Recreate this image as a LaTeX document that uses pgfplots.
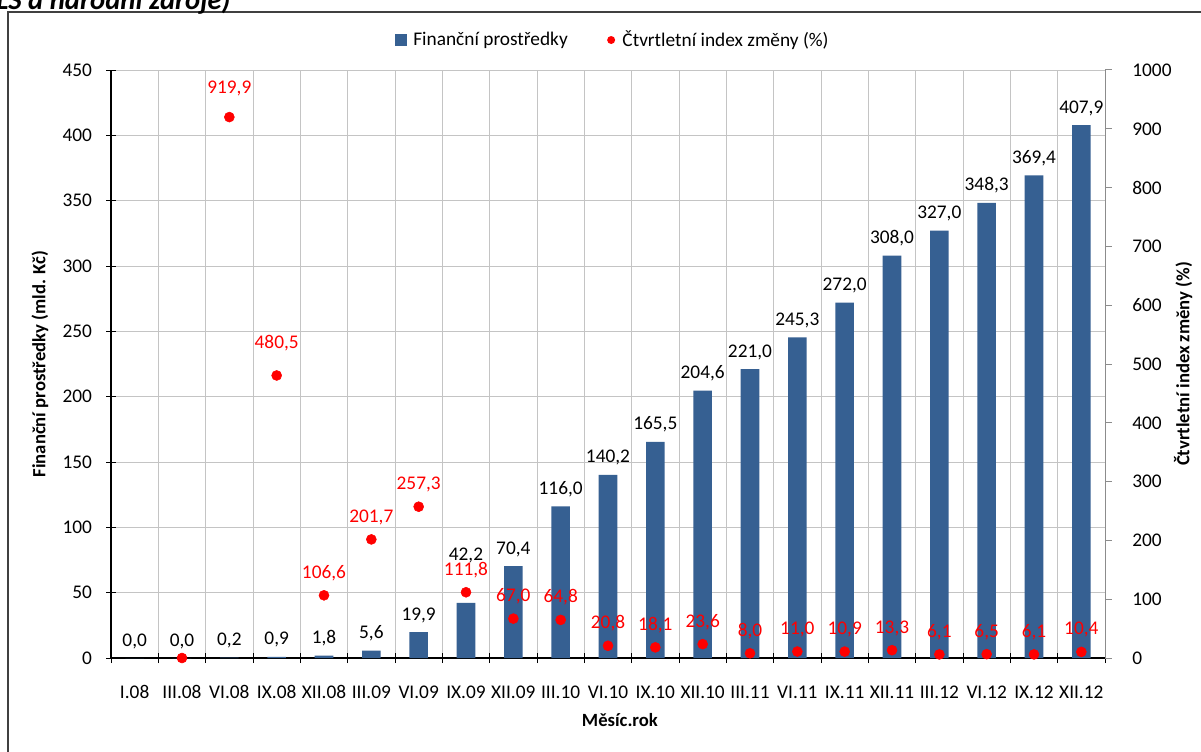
\documentclass[border=0pt]{standalone}
\usepackage{pgfplots}
\pgfplotsset{compat=1.18}
\usepackage{fontspec}
\setmainfont{Carlito}
\definecolor{barblue}{RGB}{54,96,146}
\definecolor{gridgray}{RGB}{196,196,196}
\definecolor{dotred}{RGB}{255,0,0}
\newcommand{\tfont}{\fontsize{14.5}{17}\selectfont}
\pgfplotsset{
  common/.style={
    at={(83.25pt,69.75pt)}, anchor=south west, scale only axis,
    width=745.5pt, height=441pt,
    xmin=-0.5, xmax=20.5,
    /pgf/number format/assume math mode=true,
    /pgf/number format/1000 sep={},
    tick label style={font=\tfont},
    label style={font=\fontsize{14}{16}\selectfont\bfseries},
  }
}
\begin{document}
\begin{tikzpicture}[x=1pt,y=1pt]
\path[use as bounding box] (0,0) rectangle (900.75,563.25);
\fill[white] (0,0) rectangle (900.75,563.25);
\draw[black!75, line width=0.9pt] (6,-20) -- (6,554.25) -- (920,554.25);
\node[anchor=base west, font=\fontsize{21.5}{24}\selectfont\bfseries\itshape, inner sep=0] at (-3,556) {LS a národní zdroje)};

\begin{axis}[common,
  ymin=0, ymax=450,
  axis x line*=bottom, axis y line*=left,
  xtick={-0.5,0.5,...,20.5}, x tick label as interval,
  xticklabels={I.08,III.08,VI.08,IX.08,XII.08,III.09,VI.09,IX.09,XII.09,III.10,VI.10,IX.10,XII.10,III.11,VI.11,IX.11,XII.11,III.12,VI.12,IX.12,XII.12},
  ytick={0,50,...,450},
  grid=major, grid style={gridgray, line width=0.75pt},
  tick align=center, major tick length=7.5pt,
  tick style={black, line width=0.75pt},
  axis line style={black, line width=1.3pt},
  xticklabel style={anchor=base, yshift=-26.5pt},
  yticklabel style={anchor=east, xshift=-7pt},
  ylabel={Finanční prostředky (mld. Kč)},
  ylabel style={at={(axis description cs:-0.0714,0.5)}, anchor=center},
  xlabel={Měsíc.rok},
  xlabel style={at={(axis description cs:0.512,-0.1054)}, anchor=center},
]
\addplot[ybar, bar width=13.9pt, fill=barblue, draw=none] coordinates {
(0,0) (1,0) (2,0.2) (3,0.9) (4,1.8) (5,5.6) (6,19.9) (7,42.2) (8,70.4) (9,116.0)
(10,140.2) (11,165.5) (12,204.6) (13,221.0) (14,245.3) (15,272.0) (16,308.0)
(17,327.0) (18,348.3) (19,369.4) (20,407.9)};
\addplot[draw=none, nodes near coords, point meta=explicit symbolic,
  every node near coord/.style={anchor=base, yshift=9pt, text=black, font=\tfont}]
  table[meta=lab] {
x y lab
0 0 0,0
1 0 0,0
2 0.2 0,2
3 0.9 0,9
4 1.8 1,8
5 5.6 5,6
6 19.9 19,9
8 70.4 70,4
9 116.0 116,0
10 140.2 140,2
11 165.5 165,5
12 204.6 204,6
13 221.0 221,0
14 245.3 245,3
15 272.0 272,0
16 308.0 308,0
17 327.0 327,0
18 348.3 348,3
19 369.4 369,4
20 407.9 407,9
};
\addplot[draw=none, nodes near coords, point meta=explicit symbolic,
  every node near coord/.style={anchor=base, yshift=31.5pt, text=black, font=\tfont}]
  table[meta=lab] {
x y lab
7 42.2 42,2
};
\end{axis}

\begin{axis}[common,
  ymin=0, ymax=1000,
  axis x line=none, axis y line*=right,
  ytick={0,100,...,1000},
  tick align=outside, major tick length=5pt,
  tick style={black!45, line width=0.75pt},
  axis line style={black!45, line width=0.75pt},
  yticklabel style={anchor=west, xshift=12pt},
  ylabel={Čtvrtletní index změny (\%)},
  ylabel style={at={(axis description cs:1.0785,0.5)}, anchor=center},
  legend style={at={(axis description cs:0.505,1.051)}, anchor=center, draw=none, fill=none,
    font=\tfont, legend columns=2,
    /tikz/every even column/.append style={column sep=26pt}},
]
\addlegendimage{legend image code/.code={\fill[barblue, draw=none] (0pt,-4.5pt) rectangle (9pt,4.5pt); \path[draw=none, fill=none] (0pt,0pt) -- (12pt,0pt);}}
\addlegendentry{Finanční prostředky}
\addplot[only marks, mark=*, mark size=3.75pt, color=dotred,
  legend image code/.code={\fill[dotred, draw=none] (4.5pt,0pt) circle (3pt); \path[draw=none, fill=none] (0pt,0pt) -- (11pt,0pt);},
  nodes near coords, point meta=explicit symbolic,
  every node near coord/.style={anchor=base, yshift=12.75pt, text=dotred, font=\tfont}]
  table[meta=lab] {
x y lab
4 106.6 106,6
5 201.7 201,7
6 257.3 257,3
7 111.8 111,8
8 67.0 67,0
9 64.8 64,8
10 20.8 20,8
11 18.1 18,1
12 23.6 23,6
13 8.0 8,0
14 11.0 11,0
15 10.9 10,9
16 13.3 13,3
17 6.1 6,1
18 6.5 6,5
19 6.1 6,1
20 10.4 10,4
};
\addlegendentry{Čtvrtletní index změny (\%)}
\addplot[forget plot, only marks, mark=*, mark size=3.75pt, color=dotred] coordinates {(1,0)};
\addplot[forget plot, only marks, mark=*, mark size=3.75pt, color=dotred,
  nodes near coords, point meta=explicit symbolic,
  every node near coord/.style={anchor=base, yshift=18pt, text=dotred, font=\tfont}]
  table[meta=lab] {
x y lab
2 919.9 919,9
};
\addplot[forget plot, only marks, mark=*, mark size=3.75pt, color=dotred,
  nodes near coords, point meta=explicit symbolic,
  every node near coord/.style={anchor=base, yshift=20pt, text=dotred, font=\tfont}]
  table[meta=lab] {
x y lab
3 480.5 480,5
};
\end{axis}
\end{tikzpicture}
\end{document}
